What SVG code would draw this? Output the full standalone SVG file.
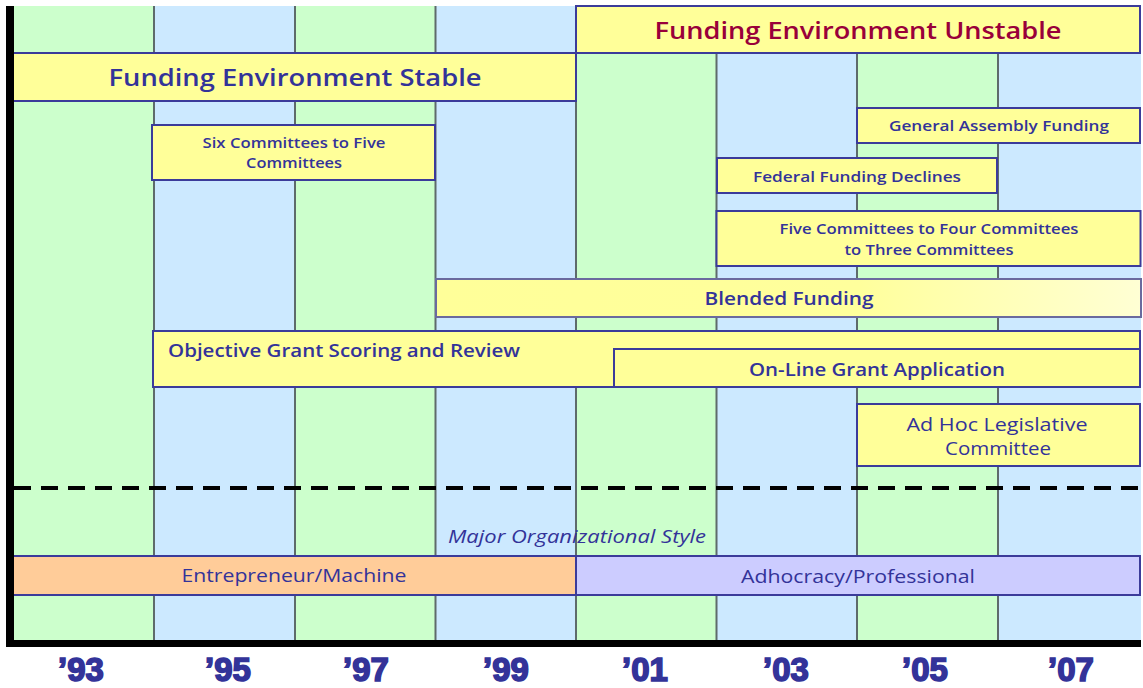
<svg xmlns="http://www.w3.org/2000/svg" width="1143" height="688" viewBox="0 0 1143 688">
  <defs>
    <linearGradient id="blendFill" x1="0" y1="0" x2="1" y2="0">
      <stop offset="0" stop-color="#ffff99"/>
      <stop offset="0.6" stop-color="#ffff9c"/>
      <stop offset="1" stop-color="#ffffd4"/>
    </linearGradient>
    <style>
      .green { fill: #ccffcc; }
      .blue { fill: #cce9ff; }
      .col-line { stroke: #5e6b6b; stroke-width: 2; }
      .box { fill: #ffff99; stroke: #3b3b9a; stroke-width: 2; }
      .style-a { fill: #ffcc99; stroke: #3b3b9a; stroke-width: 2; }
      .style-b { fill: #ccccff; stroke: #3b3b9a; stroke-width: 2; }
      text { font-family: "Open Sans", "DejaVu Sans", sans-serif; fill: #333399; }
      .big { font-size: 23px; font-weight: 600; }
      .red { fill: #99003a; }
      .small { font-size: 15px; font-weight: 600; }
      .mid { font-size: 18px; font-weight: 500; }
      .semi { font-weight: 600; }
      .year { font-family: "Liberation Sans", Arial, sans-serif; font-size: 33px; font-weight: 700; fill: #333399; stroke: #333399; stroke-width: 1.6; }
      .c { text-anchor: middle; }
    </style>
  </defs>

  <rect width="1143" height="688" fill="#ffffff"/>

  <!-- two-year columns -->
  <g id="columns">
    <rect class="green" x="13" y="6" width="141" height="635"/>
    <rect class="blue" x="154" y="6" width="141" height="635"/>
    <rect class="green" x="295" y="6" width="140.5" height="635"/>
    <rect class="blue" x="435.5" y="6" width="140.5" height="635"/>
    <rect class="green" x="576" y="6" width="140.5" height="635"/>
    <rect class="blue" x="716.5" y="6" width="140.5" height="635"/>
    <rect class="green" x="857" y="6" width="141" height="635"/>
    <rect class="blue" x="998" y="6" width="143" height="635"/>
    <line class="col-line" x1="154" y1="6" x2="154" y2="641"/>
    <line class="col-line" x1="295" y1="6" x2="295" y2="641"/>
    <line class="col-line" x1="435.5" y1="6" x2="435.5" y2="641"/>
    <line class="col-line" x1="576" y1="6" x2="576" y2="641"/>
    <line class="col-line" x1="716.5" y1="6" x2="716.5" y2="641"/>
    <line class="col-line" x1="857" y1="6" x2="857" y2="641"/>
    <line class="col-line" x1="998" y1="6" x2="998" y2="641"/>
  </g>

  <g id="funding-stable">
    <rect class="box" x="13" y="53" width="563" height="48"/>
    <text class="big c" x="295" y="86" textLength="373" lengthAdjust="spacingAndGlyphs">Funding Environment Stable</text>
  </g>

  <g id="funding-unstable">
    <rect class="box" x="576" y="6" width="564" height="47"/>
    <text class="big c red" x="858" y="39" textLength="407" lengthAdjust="spacingAndGlyphs">Funding Environment Unstable</text>
  </g>

  <g id="six-to-five">
    <rect class="box" x="152" y="125" width="283" height="55"/>
    <text class="small c" x="294" y="148" textLength="183" lengthAdjust="spacingAndGlyphs">Six Committees to Five</text>
    <text class="small c" x="294" y="168" textLength="96" lengthAdjust="spacingAndGlyphs">Committees</text>
  </g>

  <g id="general-assembly">
    <rect class="box" x="857" y="108" width="283" height="35"/>
    <text class="small c" x="999" y="131" textLength="220" lengthAdjust="spacingAndGlyphs">General Assembly Funding</text>
  </g>

  <g id="federal-declines">
    <rect class="box" x="717" y="158" width="280" height="35"/>
    <text class="small c" x="857" y="182" textLength="208" lengthAdjust="spacingAndGlyphs">Federal Funding Declines</text>
  </g>

  <g id="five-to-three">
    <rect class="box" x="716.5" y="211" width="424" height="55"/>
    <text class="small c" x="929" y="234" textLength="299" lengthAdjust="spacingAndGlyphs">Five Committees to Four Committees</text>
    <text class="small c" x="929" y="255" textLength="169" lengthAdjust="spacingAndGlyphs">to Three Committees</text>
  </g>

  <g id="blended-funding">
    <rect x="436" y="279" width="705" height="38" fill="url(#blendFill)" stroke="#6a6a9e" stroke-width="2"/>
    <text class="mid semi c" x="789" y="305" textLength="169" lengthAdjust="spacingAndGlyphs">Blended Funding</text>
  </g>

  <g id="objective-scoring">
    <rect class="box" x="153" y="331" width="987" height="56"/>
    <text class="mid semi" x="168" y="357" textLength="352" lengthAdjust="spacingAndGlyphs">Objective Grant Scoring and Review</text>
  </g>

  <g id="online-application">
    <rect class="box" x="614" y="349" width="526" height="38"/>
    <text class="mid semi c" x="877" y="376" textLength="256" lengthAdjust="spacingAndGlyphs">On-Line Grant Application</text>
  </g>

  <g id="ad-hoc-committee">
    <rect class="box" x="857" y="404" width="283" height="62"/>
    <text class="mid c" x="997" y="431" textLength="181" lengthAdjust="spacingAndGlyphs">Ad Hoc Legislative</text>
    <text class="mid c" x="998" y="455" textLength="106" lengthAdjust="spacingAndGlyphs">Committee</text>
  </g>

  <!-- divider between events and organizational style -->
  <g id="connectors">
    <line x1="14" y1="488" x2="1141" y2="488" stroke="#000000" stroke-width="4" stroke-dasharray="17 10"/>
  </g>

  <g id="style-caption">
    <text class="mid c" x="577" y="543" font-style="italic" textLength="258" lengthAdjust="spacingAndGlyphs">Major Organizational Style</text>
  </g>

  <g id="entrepreneur-machine">
    <rect class="style-a" x="13" y="556" width="563" height="39"/>
    <text class="mid c" x="294" y="582" textLength="225" lengthAdjust="spacingAndGlyphs">Entrepreneur/Machine</text>
  </g>

  <g id="adhocracy-professional">
    <rect class="style-b" x="576" y="556" width="564" height="39"/>
    <text class="mid c" x="858" y="583" textLength="234" lengthAdjust="spacingAndGlyphs">Adhocracy/Professional</text>
  </g>

  <!-- axes -->
  <g id="axes">
    <rect x="6" y="6" width="8" height="641" fill="#000000"/>
    <rect x="6" y="640" width="1135" height="7" fill="#000000"/>
  </g>

  <g id="year-labels">
    <text class="year c" x="81" y="681">’93</text>
    <text class="year c" x="228" y="681">’95</text>
    <text class="year c" x="366" y="681">’97</text>
    <text class="year c" x="506" y="681">’99</text>
    <text class="year c" x="645" y="681">’01</text>
    <text class="year c" x="786" y="681">’03</text>
    <text class="year c" x="925" y="681">’05</text>
    <text class="year c" x="1071" y="681">’07</text>
  </g>
</svg>
